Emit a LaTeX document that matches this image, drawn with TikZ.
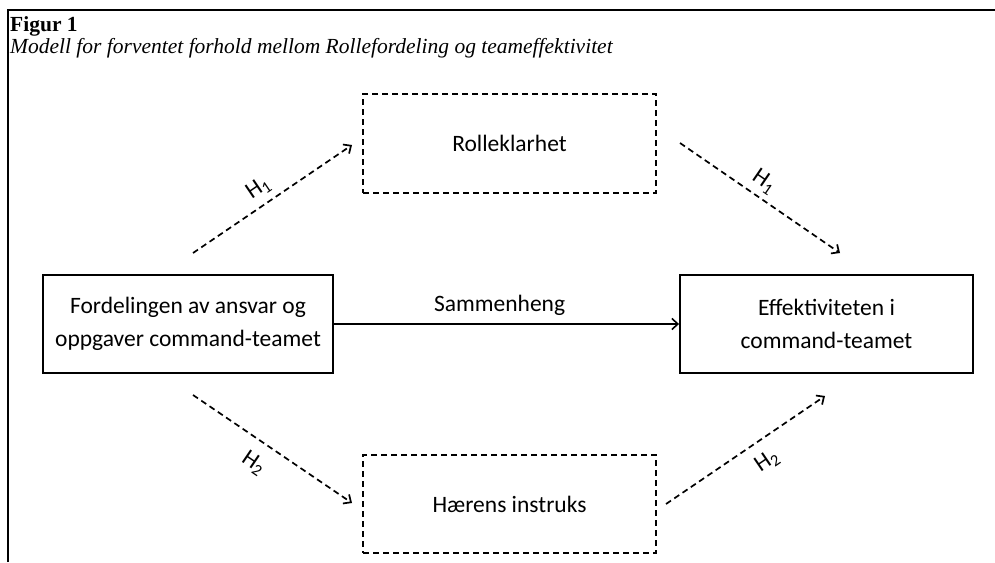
\documentclass[tikz,border=0pt]{standalone}
\usepackage{fontspec}
\setmainfont{Carlito}
\newfontfamily\titlefont{Liberation Serif}
\usetikzlibrary{graphs}
\usetikzlibrary{arrows.meta}
\tikzset{
  box/.style= {draw, line width=1.9, minimum width=290, minimum height=98, inner sep=0, align=center, font=\fontsize{23.5}{33}\selectfont},
  dbox/.style= {box, dash pattern=on 6 off 4, line width=1.8, minimum width=293, minimum height=99},
  dline/.style= {dash pattern=on 6 off 4, line width=1.7},
  hyp/.style= {sloped, font=\fontsize{23.5}{28}\selectfont},
  caption/.style= {anchor=base west, inner sep=0},
}

\begin{document}
\begin{tikzpicture}[x=1pt, y=-1pt, >={Straight Barb[length=6pt, width=11pt]}]
  \useasboundingbox (0,0) rectangle (995,562) ;
  \draw [line width=2] (8,562) -- (8,9.5) -- (995,9.5) ;
  \node [caption, font=\titlefont\fontsize{21.5}{25}\selectfont\bfseries] (fig) at (10,31) {Figur 1} ;
  \node [caption, font=\titlefont\fontsize{21.5}{25}\selectfont\itshape] (sub) at (10,53) {Modell for forventet forhold mellom Rollefordeling og teameffektivitet} ;

  \node [box] (fordeling) at (188,324) {Fordelingen av ansvar og\\oppgaver command-teamet} ;
  \node [box, minimum width=293] (effekt) at (826.5,324) {Effektiviteten i\\command-teamet} ;
  \node [dbox] (rolle) at (509.5,143.5) {Rolleklarhet} ;
  \node [dbox, minimum height=98] (instruks) at (509.5,504) {Hærens instruks} ;

  % loose ends of the dashed arrows
  \coordinate (a1) at (193,253) ;
  \coordinate (b1) at (352,145) ;
  \coordinate (c1) at (680,143) ;
  \coordinate (d1) at (840,253) ;
  \coordinate (a2) at (193,395) ;
  \coordinate (b2) at (352,503) ;
  \coordinate (c2) at (666,504) ;
  \coordinate (d2) at (825,396) ;

  \graph [edges={dline}] {
    (a1) ->[edge node={node [hyp, above=3pt, pos=.47] {H\textsubscript{1}}}] (b1) ;
    (c1) ->[edge node={node [hyp, above=2pt, pos=.47] {H\textsubscript{1}}}] (d1) ;
    (a2) ->[edge node={node [hyp, below=9pt, pos=.46] {H\textsubscript{2}}}] (b2) ;
    (c2) ->[edge node={node [hyp, below=8pt, pos=.56] {H\textsubscript{2}}}] (d2) ;
    (fordeling) ->[solid, line width=1.6, edge node={node [hyp, above=4pt, pos=.48] {Sammenheng}}] (effekt) ;
  } ;
\end{tikzpicture}
\end{document}
